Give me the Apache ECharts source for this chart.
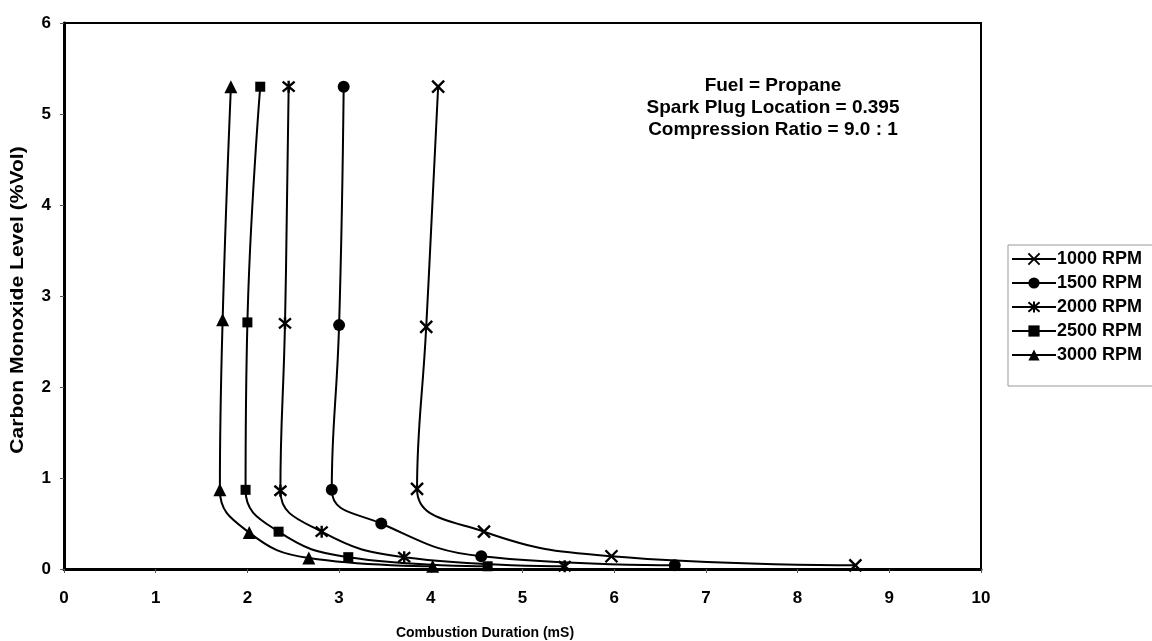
<!DOCTYPE html>
<html>
<head>
<meta charset="utf-8">
<script src="https://cdn.jsdelivr.net/npm/echarts@6/dist/echarts.min.js"></script>
<style>
  html, body { margin: 0; padding: 0; background: #fff; }
  #chart { width: 1152px; height: 641px; }
</style>
</head>
<body>
<div id="chart"></div>
<script>
// Combustion duration (mS) vs. carbon monoxide level (%Vol), one series per engine speed
const seriesNames = ['1000 RPM', '1500 RPM', '2000 RPM', '2500 RPM', '3000 RPM'];

const rpm1000X = [4.08, 3.95, 3.85, 4.58, 5.97, 8.63];
const rpm1000Y = [5.30, 2.66, 0.88, 0.41, 0.14, 0.04];

const rpm1500X = [3.05, 3.00, 2.92, 3.46, 4.55, 6.66];
const rpm1500Y = [5.30, 2.68, 0.87, 0.50, 0.14, 0.04];

const rpm2000X = [2.45, 2.41, 2.36, 2.81, 3.71, 5.46];
const rpm2000Y = [5.30, 2.70, 0.86, 0.41, 0.13, 0.03];

const rpm2500X = [2.14, 2.00, 1.98, 2.34, 3.10, 4.62];
const rpm2500Y = [5.30, 2.71, 0.87, 0.41, 0.13, 0.03];

const rpm3000X = [1.82, 1.73, 1.70, 2.02, 2.67, 4.02];
const rpm3000Y = [5.30, 2.74, 0.87, 0.40, 0.12, 0.03];

const xTicks = [0, 1, 2, 3, 4, 5, 6, 7, 8, 9, 10];
const yTicks = [0, 1, 2, 3, 4, 5, 6];

const noteLines = ['Fuel = Propane', 'Spark Plug Location = 0.395', 'Compression Ratio = 9.0 : 1'];
const xTitle = 'Combustion Duration (mS)';
const yTitle = 'Carbon Monoxide Level (%Vol)';

const FONT = '"Liberation Sans", Arial, sans-serif';

const xs = [rpm1000X, rpm1500X, rpm2000X, rpm2500X, rpm3000X];
const ys = [rpm1000Y, rpm1500Y, rpm2000Y, rpm2500Y, rpm3000Y];

// marker shapes: cross, dot, asterisk, square, triangle
const CROSS = 'path://M0,0L10,10M10,0L0,10';
const STAR = 'path://M0,0L10,10M10,0L0,10M5,-1L5,11';
const markers = [
  { symbol: CROSS, size: 12, stroke: true },
  { symbol: 'circle', size: 12, stroke: false },
  { symbol: STAR, size: 12, stroke: true },
  { symbol: 'rect', size: 10, stroke: false },
  { symbol: 'triangle', size: 13, stroke: false }
];

const series = seriesNames.map((name, i) => ({
  name: name,
  type: 'line',
  smooth: 0.45,
  data: xs[i].map((x, k) => [x, ys[i][k]]),
  symbol: markers[i].symbol,
  symbolSize: markers[i].size,
  showAllSymbol: true,
  lineStyle: { color: '#000', width: 2 },
  itemStyle: markers[i].stroke
    ? { color: 'rgba(0,0,0,0)', borderColor: '#000', borderWidth: 2.4 }
    : { color: '#000', borderColor: '#000', borderWidth: 0 },
  emphasis: { disabled: true },
  z: 3
}));

const chart = echarts.init(document.getElementById('chart'), null, { renderer: 'canvas' });

chart.setOption({
  animation: false,
  backgroundColor: '#fff',
  grid: {
    left: 64, right: 171, top: 23, bottom: 72,
    show: true, borderColor: '#000', borderWidth: 2, backgroundColor: 'transparent'
  },
  xAxis: {
    type: 'value',
    min: xTicks[0], max: xTicks[xTicks.length - 1], interval: 1,
    axisLine: { show: true, onZero: false, lineStyle: { color: '#000', width: 3 } },
    axisTick: { show: true, inside: false, length: 4, lineStyle: { color: '#555', width: 1 } },
    splitLine: { show: false },
    axisLabel: {
      margin: 21, color: '#000', fontFamily: FONT, fontWeight: 'bold', fontSize: 17,
      formatter: v => xTicks.includes(v) ? String(v) : ''
    }
  },
  yAxis: {
    type: 'value',
    min: yTicks[0], max: yTicks[yTicks.length - 1], interval: 1,
    axisLine: { show: true, onZero: false, lineStyle: { color: '#000', width: 3 } },
    axisTick: { show: true, inside: false, length: 4, lineStyle: { color: '#555', width: 1 } },
    splitLine: { show: false },
    axisLabel: {
      margin: 13, color: '#000', fontFamily: FONT, fontWeight: 'bold', fontSize: 17,
      formatter: v => yTicks.includes(v) ? String(v) : ''
    }
  },
  legend: {
    orient: 'vertical',
    left: 1008, top: 245,
    padding: [5, 60, 22, 3],
    itemGap: 6,
    itemWidth: 44, itemHeight: 14,
    borderColor: '#999', borderWidth: 1,
    data: seriesNames,
    textStyle: { color: '#000', fontFamily: FONT, fontWeight: 'bold', fontSize: 18, padding: [0, 0, 0, -4] },
    selectedMode: false
  },
  graphic: [
    {
      type: 'text',
      style: {
        x: 773, y: 75,
        text: noteLines.join('\n'),
        align: 'center', verticalAlign: 'top',
        fill: '#000',
        font: 'bold 19px ' + FONT,
        lineHeight: 22
      }
    },
    {
      type: 'text',
      style: {
        x: 485, y: 633,
        text: xTitle,
        align: 'center', verticalAlign: 'middle',
        fill: '#000', font: 'bold 14px ' + FONT
      }
    },
    {
      // vertical axis title, stretched along its length
      type: 'text',
      rotation: Math.PI / 2,
      x: 18, y: 300,
      scaleX: 1.17,
      style: {
        x: 0, y: 0,
        text: yTitle,
        align: 'center', verticalAlign: 'middle',
        fill: '#000', font: 'bold 18px ' + FONT
      }
    }
  ],
  series: series
});
</script>
</body>
</html>
